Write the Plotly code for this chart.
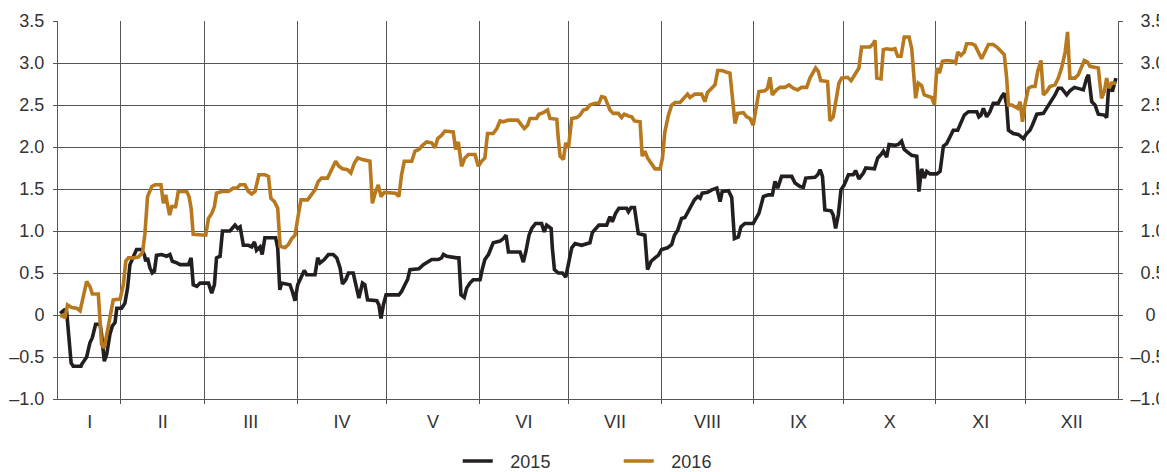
import plotly.graph_objects as go

# Day of year (x) and values for each year
day_2015 = [11.6, 13.0, 13.8, 15.3, 16.0, 18.6, 18.8, 20.5, 21.6, 22.4, 23.5, 25.0, 25.5, 26.4, 27.2, 28.3, 29.1, 30.0, 30.6,
            32.2, 33.3, 34.2, 35.0, 36.1, 37.2, 38.9, 39.8, 40.3, 40.9, 41.7, 42.5, 43.2, 43.9, 45.6, 47.3, 48.4, 49.2,
            50.7, 51.8, 54.6, 55.5, 56.2, 57.4, 58.5, 61.3, 62.4, 63.3, 64.0, 65.2, 66.0, 68.5, 70.2, 71.1, 71.9, 73.0,
            74.7, 75.8, 76.7, 77.4, 78.6, 79.3, 80.2, 83.8, 84.5, 85.2, 85.8, 88.6, 89.4, 90.3, 91.2, 92.3, 93.4, 94.2,
            97.0, 97.9, 98.7, 100.1, 101.5, 103.1, 104.3, 105.4, 106.2, 107.3, 108.2, 109.8, 110.4, 111.7, 112.9, 113.7,
            114.6, 117.7, 118.4, 119.1, 119.9, 120.8, 125.1, 126.0, 127.1, 128.0, 128.8, 131.8, 133.3, 135.0, 136.1,
            138.3, 139.4, 140.0, 141.1, 144.5, 145.2, 145.9, 147.0, 147.8, 148.9, 150.0, 150.6, 152.3, 153.0, 153.9,
            155.1, 156.7, 159.0, 160.1, 161.0, 161.8, 165.7, 166.8, 167.6, 168.7, 169.6, 170.9, 172.9, 173.8, 174.6,
            176.1, 176.5, 177.2, 178.5, 179.9, 181.0, 181.9, 183.0, 184.1, 186.3, 189.1, 189.9, 192.1, 194.7, 195.8,
            196.6, 197.7, 198.8, 201.4, 202.0, 202.9, 204.0, 205.3, 207.5, 208.4, 209.6, 210.9, 212.0, 213.1, 215.1,
            216.5, 217.4, 218.5, 219.8, 220.9, 222.6, 224.1, 225.2, 226.0, 226.7, 228.5, 229.9, 231.6, 232.7, 233.4,
            235.5, 236.6, 237.5, 238.8, 239.7, 241.0, 243.8, 245.0, 245.7, 247.2, 248.9, 250.2, 251.1, 252.0, 253.3,
            256.7, 257.8, 259.5, 260.6, 261.4, 264.5, 265.4, 266.2, 267.0, 267.8, 269.9, 270.6, 271.4, 272.3, 273.2,
            274.3, 275.7, 277.3, 278.1, 279.2, 280.7, 281.5, 284.4, 285.5, 286.6, 287.4, 288.5, 289.3, 291.3, 292.4,
            293.5, 294.4, 295.8, 296.9, 298.6, 299.3, 300.2, 301.1, 301.9, 303.0, 305.3, 306.4, 307.5, 308.6, 309.7,
            310.8, 312.3, 313.4, 314.5, 315.9, 318.7, 319.4, 320.1, 320.9, 322.0, 323.1, 324.2, 325.9, 327.0, 327.9,
            328.7, 329.3, 330.9, 332.6, 334.3, 335.4, 336.5, 337.3, 338.8, 341.0, 342.4, 343.8, 344.9, 346.0, 347.1,
            348.8, 349.9, 351.4, 354.4, 355.5, 356.1, 357.2, 358.3, 359.4, 361.4, 362.2, 362.8, 363.3, 364.1, 365.0,
            365.3]
val_2015 = [0.02, 0.06, 0.04, -0.57, -0.61, -0.61, -0.59, -0.50, -0.33, -0.27, -0.11, -0.11, -0.23, -0.55, -0.47, -0.23,
            -0.13, -0.09, 0.08, 0.08, 0.14, 0.32, 0.60, 0.70, 0.78, 0.78, 0.72, 0.64, 0.68, 0.56, 0.50, 0.52, 0.71, 0.72,
            0.70, 0.72, 0.64, 0.62, 0.60, 0.60, 0.68, 0.36, 0.34, 0.38, 0.38, 0.26, 0.36, 0.68, 0.70, 1.00, 1.00, 1.07,
            1.03, 1.05, 0.83, 0.83, 0.81, 0.87, 0.77, 0.81, 0.72, 0.92, 0.92, 0.80, 0.30, 0.38, 0.36, 0.28, 0.17, 0.36,
            0.44, 0.53, 0.48, 0.48, 0.68, 0.62, 0.66, 0.72, 0.72, 0.68, 0.56, 0.37, 0.42, 0.50, 0.50, 0.40, 0.20, 0.38,
            0.36, 0.18, 0.17, 0.12, -0.04, 0.12, 0.24, 0.24, 0.28, 0.36, 0.42, 0.54, 0.55, 0.60, 0.63, 0.66, 0.66, 0.68,
            0.72, 0.70, 0.68, 0.68, 0.24, 0.21, 0.32, 0.38, 0.42, 0.42, 0.42, 0.54, 0.66, 0.72, 0.86, 0.88, 0.91, 0.95,
            0.75, 0.75, 0.63, 0.75, 0.95, 1.03, 1.09, 1.09, 0.99, 1.07, 1.03, 0.80, 0.54, 0.50, 0.50, 0.45, 0.63, 0.80,
            0.85, 0.83, 0.86, 0.98, 1.07, 1.07, 1.17, 1.11, 1.21, 1.27, 1.27, 1.23, 1.28, 1.28, 0.97, 0.95, 0.54, 0.64,
            0.68, 0.71, 0.78, 0.80, 0.84, 0.95, 1.01, 1.15, 1.16, 1.27, 1.37, 1.41, 1.39, 1.45, 1.46, 1.49, 1.51, 1.35,
            1.47, 1.48, 1.40, 0.91, 0.93, 1.05, 1.09, 1.09, 1.16, 1.21, 1.41, 1.43, 1.43, 1.59, 1.51, 1.65, 1.65, 1.57,
            1.53, 1.52, 1.63, 1.64, 1.67, 1.73, 1.65, 1.25, 1.24, 1.19, 1.03, 1.19, 1.49, 1.55, 1.67, 1.67, 1.72, 1.62,
            1.69, 1.75, 1.74, 1.87, 1.91, 1.95, 1.88, 2.03, 2.02, 2.03, 2.07, 1.97, 1.93, 1.90, 1.89, 1.47, 1.74, 1.63,
            1.71, 1.68, 1.68, 1.71, 2.01, 2.04, 2.12, 2.20, 2.20, 2.28, 2.38, 2.42, 2.42, 2.36, 2.38, 2.46, 2.36, 2.42,
            2.52, 2.52, 2.60, 2.64, 2.50, 2.20, 2.16, 2.15, 2.10, 2.16, 2.20, 2.26, 2.39, 2.40, 2.48, 2.54, 2.62, 2.70,
            2.70, 2.62, 2.67, 2.71, 2.68, 2.82, 2.86, 2.54, 2.50, 2.39, 2.38, 2.35, 2.68, 2.74, 2.66, 2.78, 2.82]

day_2016 = [11.6, 12.7, 13.2, 14.1, 15.5, 17.2, 18.3, 19.4, 20.5, 21.6, 22.4, 24.4, 25.5, 26.4, 27.2, 28.3, 29.4, 31.7,
            32.8, 33.6, 34.5, 36.1, 37.8, 39.2, 40.0, 40.9, 42.3, 43.4, 45.4, 46.2, 47.0, 47.6, 48.3, 49.0, 50.3, 51.2,
            54.0, 54.8, 55.5, 56.2, 59.6, 60.4, 61.3, 62.4, 63.3, 64.0, 65.7, 68.0, 69.6, 70.8, 71.9, 73.5, 74.7, 75.8,
            76.9, 78.2, 80.2, 81.4, 82.2, 83.4, 84.5, 85.3, 86.9, 88.1, 89.2, 90.3, 91.4, 92.3, 94.5, 95.9, 97.0, 98.1,
            99.2, 101.2, 102.6, 103.9, 105.0, 106.2, 107.9, 109.0, 110.2, 111.3, 112.9, 115.4, 115.8, 116.2, 117.3,
            118.2, 119.1, 120.2, 124.0, 125.1, 126.0, 126.9, 129.4, 130.5, 131.8, 133.0, 134.4, 136.1, 137.2, 138.1,
            139.4, 140.5, 143.3, 144.1, 145.0, 146.1, 147.2, 148.4, 150.6, 151.7, 152.8, 153.9, 154.8, 156.7, 157.9,
            159.0, 160.1, 161.8, 164.9, 166.2, 167.1, 168.2, 169.0, 171.2, 172.0, 173.5, 174.9, 175.7, 178.0, 178.5,
            179.1, 180.2, 181.0, 181.9, 183.0, 184.7, 185.8, 186.9, 188.0, 189.1, 190.8, 192.1, 193.0, 194.1, 195.0,
            195.8, 196.9, 198.6, 199.7, 200.6, 202.0, 203.1, 204.0, 205.9, 206.6, 207.5, 208.4, 209.6, 210.9, 212.6,
            213.4, 214.2, 215.4, 216.5, 217.6, 219.3, 220.4, 221.8, 222.6, 224.3, 226.5, 227.6, 228.5, 229.7, 231.0,
            231.9, 233.4, 234.9, 236.0, 236.8, 237.7, 238.6, 240.5, 241.6, 242.7, 243.8, 244.6, 245.7, 247.7, 248.6,
            249.4, 250.2, 251.6, 252.8, 254.4, 255.8, 257.2, 258.7, 260.0, 261.7, 262.8, 263.9, 264.7, 265.6, 266.4,
            268.7, 269.5, 270.6, 271.8, 272.5, 273.4, 275.4, 276.6, 277.9, 279.2, 280.1, 282.9, 284.0, 284.6, 285.2,
            286.6, 287.4, 288.5, 290.2, 291.3, 292.2, 293.3, 294.4, 296.0, 296.9, 297.8, 298.2, 299.1, 300.2, 301.1,
            302.5, 303.6, 304.5, 305.3, 306.2, 307.2, 308.6, 310.8, 311.6, 312.3, 313.4, 314.5, 315.3, 317.0, 318.1,
            319.2, 320.3, 321.4, 322.6, 324.2, 325.4, 326.8, 327.9, 328.7, 329.3, 330.4, 331.5, 332.4, 333.2, 334.0,
            334.9, 336.0, 337.1, 338.2, 339.1, 340.2, 341.0, 342.1, 343.2, 344.9, 346.0, 347.1, 348.3, 349.1, 349.9,
            351.6, 352.7, 353.6, 354.7, 355.8, 356.6, 358.1, 359.4, 360.0, 360.5, 361.4, 362.2, 363.0, 363.9, 365.3]
val_2016 = [-0.02, 0.00, -0.04, 0.12, 0.09, 0.08, 0.05, 0.24, 0.40, 0.34, 0.25, 0.25, -0.35, -0.39, -0.23, 0.00, 0.18,
            0.19, 0.36, 0.64, 0.68, 0.68, 0.69, 0.74, 0.96, 1.41, 1.53, 1.55, 1.55, 1.33, 1.43, 1.31, 1.19, 1.29, 1.29,
            1.47, 1.47, 1.41, 1.27, 0.96, 0.96, 0.95, 1.15, 1.21, 1.29, 1.45, 1.47, 1.47, 1.51, 1.51, 1.55, 1.55, 1.47,
            1.44, 1.47, 1.67, 1.67, 1.65, 1.39, 1.35, 1.27, 0.82, 0.80, 0.84, 0.91, 0.95, 1.19, 1.37, 1.37, 1.43, 1.49,
            1.59, 1.63, 1.63, 1.73, 1.83, 1.77, 1.74, 1.73, 1.69, 1.81, 1.87, 1.85, 1.83, 1.59, 1.33, 1.47, 1.55, 1.41,
            1.46, 1.45, 1.41, 1.67, 1.83, 1.83, 1.95, 1.97, 2.02, 2.06, 2.05, 1.99, 2.10, 2.14, 2.19, 2.18, 1.97, 2.06,
            1.77, 1.87, 1.91, 1.91, 1.77, 1.83, 1.87, 2.16, 2.16, 2.22, 2.31, 2.30, 2.32, 2.32, 2.26, 2.22, 2.26, 2.34,
            2.34, 2.39, 2.41, 2.44, 2.34, 2.33, 2.10, 1.89, 1.85, 2.05, 1.99, 2.34, 2.35, 2.38, 2.44, 2.45, 2.50, 2.52,
            2.52, 2.60, 2.59, 2.52, 2.44, 2.40, 2.40, 2.35, 2.39, 2.37, 2.36, 2.31, 2.30, 1.89, 1.95, 1.87, 1.81, 1.74,
            1.74, 1.87, 2.18, 2.38, 2.50, 2.53, 2.53, 2.58, 2.63, 2.59, 2.63, 2.63, 2.54, 2.65, 2.70, 2.74, 2.91, 2.91,
            2.89, 2.88, 2.60, 2.28, 2.40, 2.41, 2.36, 2.34, 2.26, 2.42, 2.66, 2.67, 2.70, 2.83, 2.62, 2.68, 2.71, 2.71,
            2.74, 2.70, 2.68, 2.71, 2.71, 2.82, 2.88, 2.94, 2.90, 2.79, 2.78, 2.31, 2.36, 2.58, 2.76, 2.82, 2.83, 2.79,
            2.86, 2.94, 3.19, 3.19, 3.23, 3.27, 2.82, 2.81, 3.16, 3.17, 3.16, 3.17, 3.08, 3.08, 3.31, 3.31, 3.17, 2.78,
            2.58, 2.76, 2.73, 2.62, 2.60, 2.59, 2.50, 2.94, 2.88, 3.02, 3.03, 3.02, 3.00, 3.13, 3.09, 3.13, 3.23, 3.23,
            3.21, 3.13, 3.05, 3.13, 3.22, 3.22, 3.19, 3.14, 3.10, 2.82, 2.50, 2.50, 2.48, 2.46, 2.54, 2.30, 2.52, 2.70,
            2.72, 2.72, 2.90, 3.03, 2.62, 2.66, 2.72, 2.74, 2.82, 2.94, 3.13, 3.37, 2.82, 2.82, 2.86, 2.94, 3.03, 3.01,
            2.96, 2.95, 2.94, 2.74, 2.58, 2.66, 2.82, 2.70, 2.76, 2.76]

month_starts = [32, 60, 91, 121, 152, 182, 213, 244, 274, 305, 335]
month_mids = [21.5, 46, 75.5, 106, 136.5, 167, 197.5, 228.5, 259, 289.5, 320, 350.5]
month_labels = ["I", "II", "III", "IV", "V", "VI", "VII", "VIII", "IX", "X", "XI", "XII"]
y_ticks = [-1.0, -0.5, 0, 0.5, 1.0, 1.5, 2.0, 2.5, 3.0, 3.5]
y_tick_text = ["\u20131.0", "\u20130.5", "0", "0.5", "1.0", "1.5", "2.0", "2.5", "3.0", "3.5"]
# right-hand labels padded with figure/punctuation spaces so they line up on the right
y_tick_text_right = ["\u20131.0", "\u20130.5", "\u2007\u20080", "\u20070.5", "\u20071.0", "\u20071.5",
                     "\u20072.0", "\u20072.5", "\u20073.0", "\u20073.5"]
x_range = [10.9, 366]
y_range = [-1.0, 3.5]

FONT = "Liberation Sans, Arial, sans-serif"
GRID = "#555555"
TXT = "#333333"
TICKFONT = dict(family=FONT, size=18, color=TXT)

fig = go.Figure()
fig.add_trace(go.Scatter(x=day_2015, y=val_2015, mode="lines", name="\u2002\u20092015",
                         line=dict(color="#231f20", width=3.6)))
fig.add_trace(go.Scatter(x=day_2016, y=val_2016, mode="lines", name="\u2002\u20092016",
                         line=dict(color="#b8781e", width=3.6)))
# invisible trace to drive the right-hand axis
fig.add_trace(go.Scatter(x=[x_range[0]], y=[0], yaxis="y2", xaxis="x2", mode="markers",
                         marker=dict(opacity=0), showlegend=False, hoverinfo="skip"))

# the page body adds an 8 px offset, margins compensate for it
fig.update_layout(
    width=1159, height=464,
    margin=dict(l=50, r=49, t=13, b=73, autoexpand=False),
    paper_bgcolor="white", plot_bgcolor="white",
    font=dict(family=FONT, size=18, color=TXT),
    showlegend=True,
    legend=dict(orientation="h", x=0.529, xanchor="center", y=-0.165, yanchor="middle",
                font=dict(family=FONT, size=18, color=TXT), entrywidth=116, itemwidth=30),
    xaxis=dict(range=x_range, tickvals=month_starts, showticklabels=False, automargin=False,
               showgrid=True, gridcolor=GRID, gridwidth=1,
               ticks="outside", ticklen=4, tickcolor=GRID,
               showline=True, linecolor=GRID, linewidth=1, zeroline=False),
    xaxis2=dict(range=x_range, overlaying="x", side="bottom", tickvals=month_mids, ticktext=month_labels,
                automargin=False, showgrid=False, ticks="outside", ticklen=6, tickcolor="rgba(0,0,0,0)",
                showline=False, zeroline=False, tickfont=TICKFONT),
    yaxis=dict(range=y_range, tickvals=y_ticks, ticktext=y_tick_text, automargin=False,
               showgrid=True, gridcolor=GRID, gridwidth=1, zeroline=False,
               ticks="outside", ticklen=4, tickcolor=GRID, ticklabelstandoff=5,
               showline=True, linecolor=GRID, linewidth=1, tickfont=TICKFONT),
    yaxis2=dict(range=y_range, tickvals=y_ticks, ticktext=y_tick_text_right, overlaying="y", side="right",
                automargin=False, showgrid=False, zeroline=False, ticks="outside", ticklen=4, tickcolor=GRID,
                ticklabelstandoff=4,
                showline=True, linecolor=GRID, linewidth=1, tickfont=TICKFONT),
)

fig.write_html("out.html")
